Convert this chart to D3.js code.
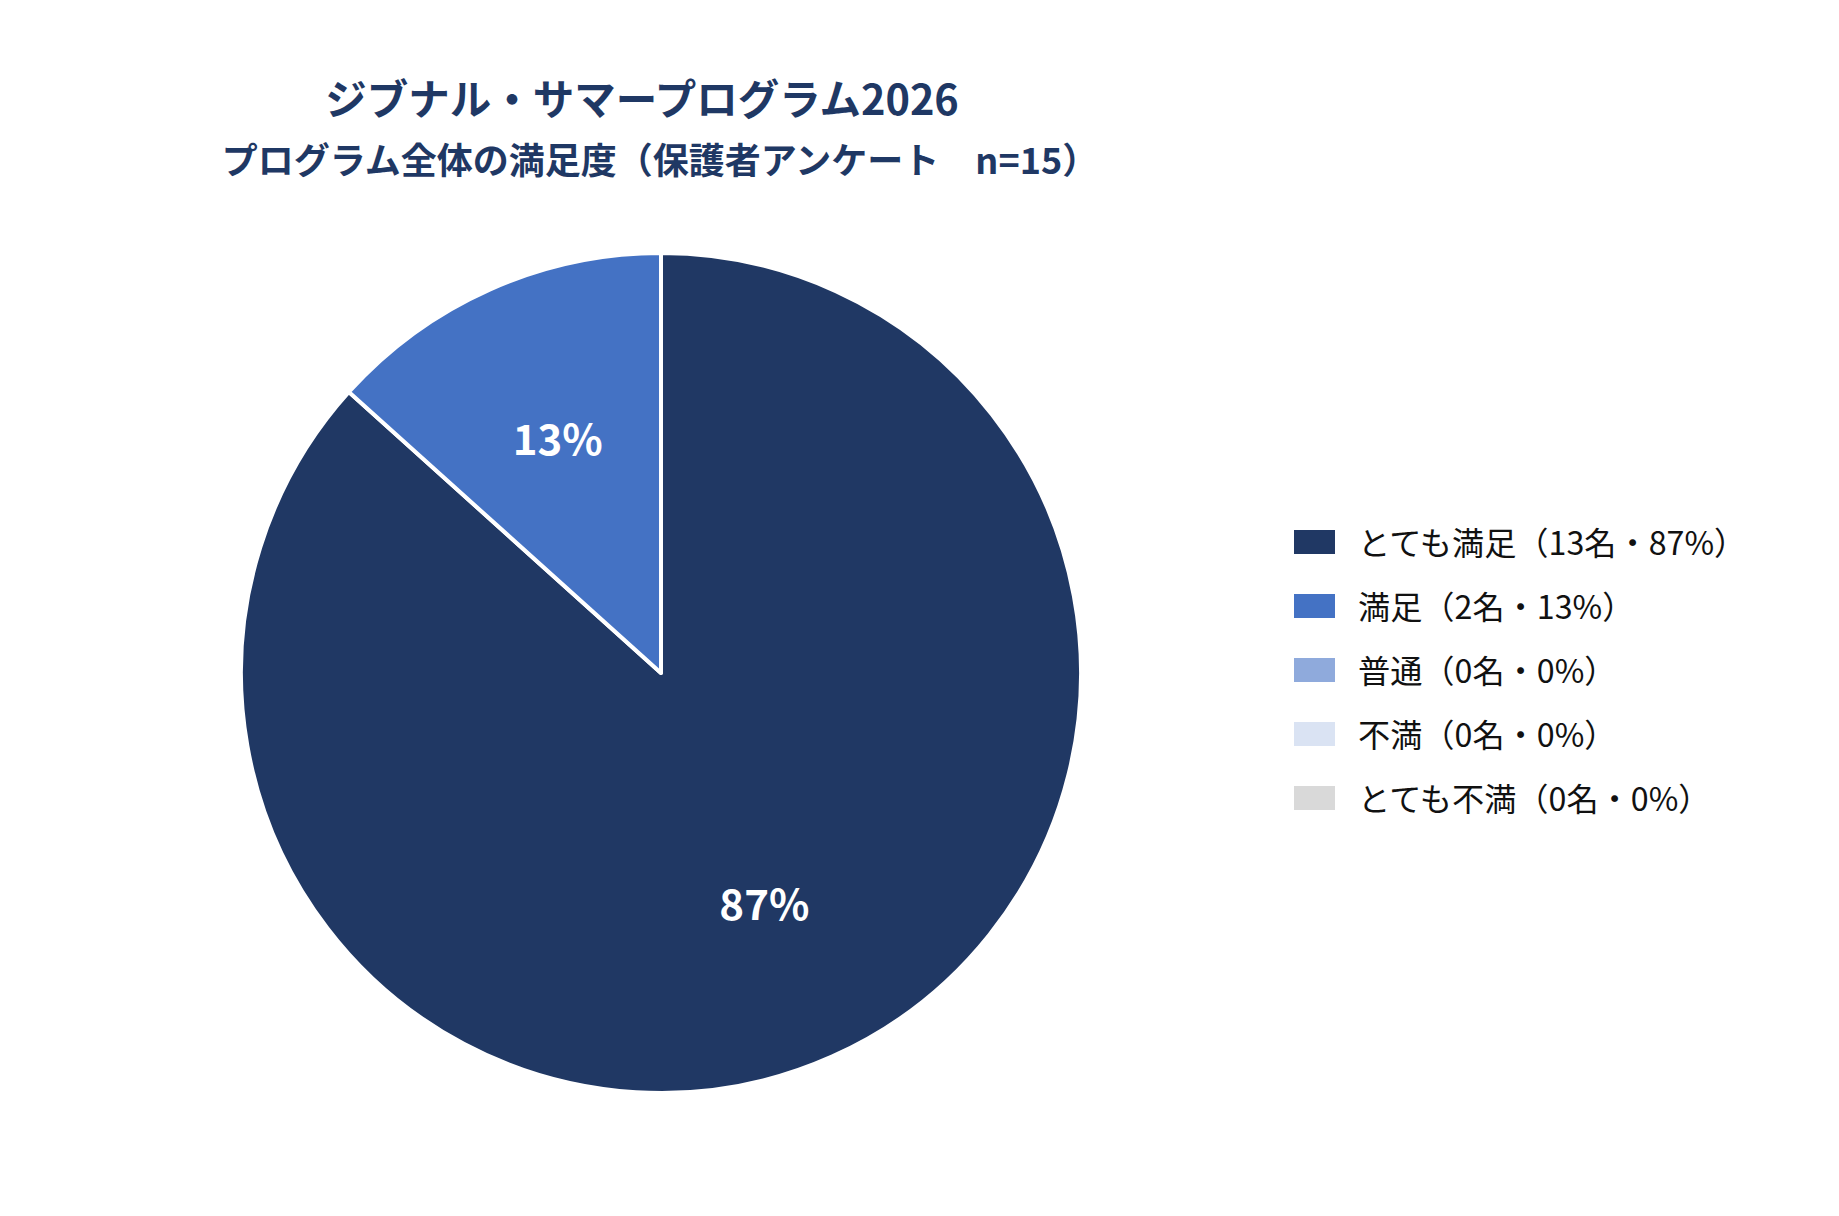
<!DOCTYPE html>
<html>
<head>
<meta charset="utf-8">
<script src="https://cdn.jsdelivr.net/npm/d3@7"></script>
<style>
  body { margin: 0; background: #fff; }
  text { font-family: "Noto Sans CJK JP", "Noto Sans", sans-serif; }
</style>
</head>
<body>
<div id="canvas"></div>
<script>
// survey answers, parents n=15
let categories = ["とても満足", "満足", "普通", "不満", "とても不満"]
let counts = [13, 2, 0, 0, 0]
let titleLines = ["ジブナル・サマープログラム2026", "プログラム全体の満足度（保護者アンケート　n=15）"]

let palette = ["#203864", "#4472c4", "#8faadc", "#dae3f3", "#d9d9d9"]

let svg = {}
let W = 1839, H = 1216
let cx = 661, cy = 673, r = 420

window.onload = function () { setup() }

function setup() {
  svg = d3.select("#canvas")
    .append("svg")
    .attr("width", W)
    .attr("height", H)

  drawTitle()
  drawPie()
  drawLegend()
}

function pct(v) {
  let total = d3.sum(counts)
  return Math.round(v / total * 100)
}

function drawTitle() {
  svg.append("text")
    .attr("x", 642).attr("y", 97)
    .attr("text-anchor", "middle")
    .attr("dominant-baseline", "central")
    .attr("font-size", 41.5)
    .attr("font-weight", "bold")
    .attr("fill", "#1f3864")
    .text(titleLines[0])

  svg.append("text")
    .attr("x", 660).attr("y", 158)
    .attr("text-anchor", "middle")
    .attr("dominant-baseline", "central")
    .attr("font-size", 36)
    .attr("font-weight", "bold")
    .attr("fill", "#1f3864")
    .text(titleLines[1])
}

function drawPie() {
  let color = d3.scaleOrdinal().domain(categories).range(palette)
  let pie = d3.pie().sort(null).value(d => d.count)
  let data = categories.map((c, i) => ({ cat: c, count: counts[i] }))
  let arcs = pie(data)

  let arc = d3.arc().innerRadius(0).outerRadius(r)
  let labelArc = d3.arc().innerRadius(r * 0.605).outerRadius(r * 0.605)

  let g = svg.append("g").attr("transform", `translate(${cx},${cy})`)

  g.selectAll("path")
    .data(arcs.filter(d => d.data.count > 0))
    .join("path")
    .attr("d", arc)
    .attr("fill", d => color(d.data.cat))
    .attr("stroke", "#fff")
    .attr("stroke-width", 4)
    .attr("stroke-linejoin", "round")

  g.selectAll("text.pct")
    .data(arcs.filter(d => d.data.count > 0))
    .join("text")
    .attr("class", "pct")
    .attr("transform", d => `translate(${labelArc.centroid(d)})`)
    .attr("dy", -4)
    .attr("text-anchor", "middle")
    .attr("dominant-baseline", "central")
    .attr("font-size", 42)
    .attr("font-weight", "bold")
    .attr("fill", "#fff")
    .text(d => pct(d.data.count) + "%")
}

function drawLegend() {
  let color = d3.scaleOrdinal().domain(categories).range(palette)
  let y = d3.scalePoint().domain(categories).range([542, 798])

  let rows = svg.append("g").selectAll("g")
    .data(categories)
    .join("g")
    .attr("transform", d => `translate(1294,${y(d)})`)

  rows.append("rect")
    .attr("x", 0).attr("y", -12)
    .attr("width", 41).attr("height", 24)
    .attr("fill", d => color(d))

  rows.append("text")
    .attr("x", 64).attr("y", -1)
    .attr("dominant-baseline", "central")
    .attr("font-size", 32.2)
    .attr("fill", "#111")
    .text((d, i) => `${d}（${counts[i]}名・${pct(counts[i])}%）`)
}
</script>
</body>
</html>
